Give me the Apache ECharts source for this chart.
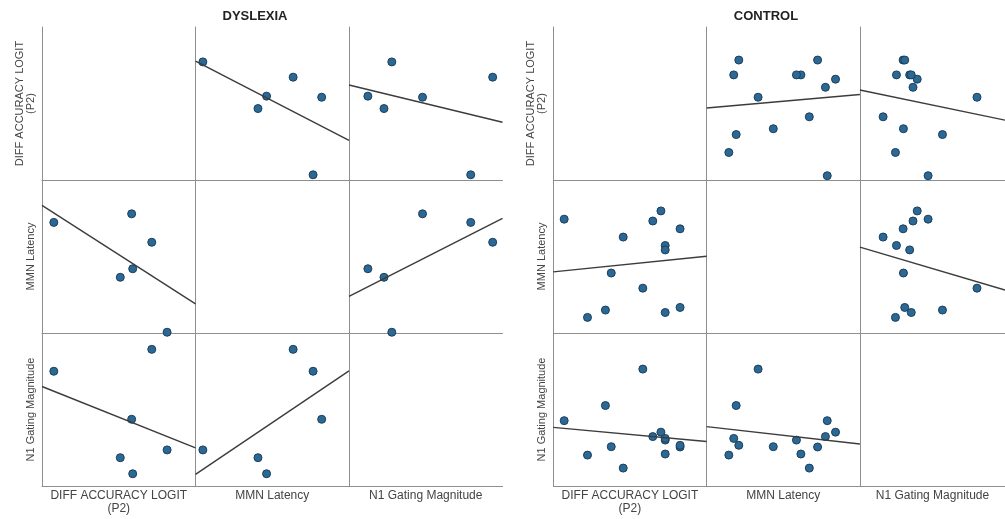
<!DOCTYPE html>
<html>
<head>
<meta charset="utf-8">
<script src="https://cdn.jsdelivr.net/npm/echarts@6/dist/echarts.min.js"></script>
<style>
  html, body { margin: 0; padding: 0; background: #fff; }
  #main { width: 1005px; height: 519px; }
</style>
</head>
<body>
<div id="main"></div>
<script>
// variables of the scatter matrix (same order for rows and columns)
const varNames = ['DIFF ACCURACY LOGIT\n(P2)', 'MMN Latency', 'N1 Gating Magnitude'];

// DYSLEXIA group, one entry per subject (relative scale)
const dysDiff = [0.772, 0.672, 0.548, 0.541, 0.467, 0.034];
const dysMmn  = [0.005, 0.593, 0.420, 0.779, 0.364, 0.723];
const dysN1   = [0.236, 0.893, 0.080, 0.436, 0.185, 0.750];

// CONTROL group
const ctlDiff = [0.659, 0.028, 0.606, 0.784, 0.413, 0.687, 0.687, 0.335, 0.541, 0.784, 0.297, 0.687, 0.180];
const ctlMmn  = [0.798, 0.744, 0.732, 0.681, 0.627, 0.572, 0.543, 0.392, 0.293, 0.167, 0.150, 0.134, 0.102];
const ctlN1   = [0.352, 0.427, 0.323, 0.255, 0.117, 0.209, 0.300, 0.257, 0.764, 0.266, 0.526, 0.311, 0.202];

const xMin = -0.043, xMax = 0.957;
const yMin = 0, yMax = 1;

const panels = [
    { title: 'DYSLEXIA', left: 42, cellW: 153.5, titleX: 255, vars: [dysDiff, dysMmn, dysN1] },
    { title: 'CONTROL', left: 553.3, cellW: 153.3, titleX: 766, vars: [ctlDiff, ctlMmn, ctlN1] }
];
const top0 = 27, cellH = 153;

// least squares fit y = a + b*x
function fit(xs, ys) {
    const n = xs.length;
    const mx = xs.reduce((s, v) => s + v, 0) / n;
    const my = ys.reduce((s, v) => s + v, 0) / n;
    let sxy = 0, sxx = 0;
    for (let i = 0; i < n; i++) {
        sxy += (xs[i] - mx) * (ys[i] - my);
        sxx += (xs[i] - mx) * (xs[i] - mx);
    }
    const b = sxy / sxx;
    return [my - b * mx, b];
}

const axisColor = '#8e8e8e';
const textColor = '#444444';

var grids = [], xAxes = [], yAxes = [], series = [], titles = [];

panels.forEach(function (p) {
    titles.push({
        text: p.title,
        left: p.titleX,
        top: 10,
        padding: 0,
        textAlign: 'center',
        textStyle: { fontFamily: 'Liberation Sans', fontSize: 13, fontWeight: 'bold', color: '#222' }
    });
    for (let r = 0; r < 3; r++) {
        for (let c = 0; c < 3; c++) {
            const gi = grids.length;
            grids.push({
                left: p.left + c * p.cellW,
                top: top0 + r * cellH,
                width: p.cellW,
                height: cellH
            });
            xAxes.push({
                gridIndex: gi,
                type: 'value',
                min: xMin,
                max: xMax,
                name: r === 2 ? varNames[c] : '',
                nameLocation: 'middle',
                nameGap: 3,
                nameTextStyle: {
                    fontFamily: 'Liberation Sans', fontSize: 12, color: textColor,
                    verticalAlign: 'top', lineHeight: 13
                },
                axisLine: { show: true, onZero: false, lineStyle: { color: axisColor, width: 1 } },
                axisTick: { show: false },
                axisLabel: { show: false },
                splitLine: { show: false }
            });
            yAxes.push({
                gridIndex: gi,
                type: 'value',
                min: yMin,
                max: yMax,
                name: c === 0 ? varNames[r] : '',
                nameLocation: 'middle',
                nameRotate: 90,
                nameGap: 6,
                nameTextStyle: {
                    fontFamily: 'Liberation Sans', fontSize: 11, color: textColor, lineHeight: 11
                },
                axisLine: { show: true, onZero: false, lineStyle: { color: axisColor, width: 1 } },
                axisTick: { show: false },
                axisLabel: { show: false },
                splitLine: { show: false }
            });
            if (r === c) continue;
            const xs = p.vars[c], ys = p.vars[r];
            const ab = fit(xs, ys);
            series.push({
                type: 'line',
                xAxisIndex: gi,
                yAxisIndex: gi,
                data: [[xMin, ab[0] + ab[1] * xMin], [xMax, ab[0] + ab[1] * xMax]],
                symbol: 'none',
                silent: true,
                lineStyle: { color: '#3c3c3c', width: 1.4 },
                z: 3
            });
            series.push({
                type: 'scatter',
                xAxisIndex: gi,
                yAxisIndex: gi,
                data: xs.map((v, i) => [v, ys[i]]),
                symbol: 'circle',
                symbolSize: 8,
                itemStyle: { color: '#2c6894', borderColor: '#1b3f5c', borderWidth: 1, opacity: 1 },
                z: 2
            });
        }
    }
});

var myChart = echarts.init(document.getElementById('main'));
var option = {
    backgroundColor: '#ffffff',
    animation: false,
    title: titles,
    grid: grids,
    xAxis: xAxes,
    yAxis: yAxes,
    series: series
};
myChart.setOption(option);
</script>
</body>
</html>
